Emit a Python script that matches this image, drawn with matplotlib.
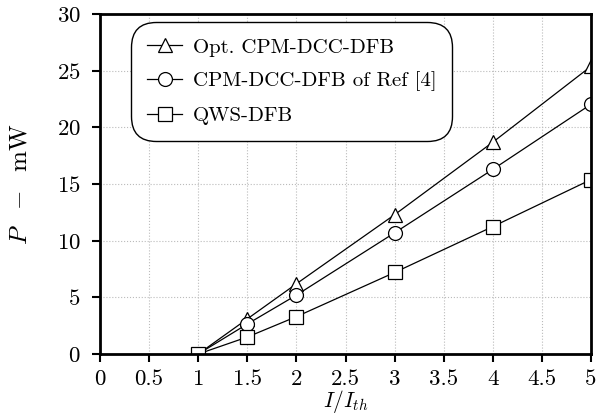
import numpy as np
import matplotlib
matplotlib.use("Agg")
import matplotlib.pyplot as plt

plt.rcParams['font.family'] = 'serif'
plt.rcParams['font.serif'] = ['cmr10']
plt.rcParams['mathtext.fontset'] = 'cm'
plt.rcParams['axes.formatter.use_mathtext'] = True

# data
current = [1, 1.5, 2, 3, 4, 5]
p_opt = [0, 3.1, 6.2, 12.3, 18.7, 25.4]
p_ref4 = [0, 2.65, 5.2, 10.7, 16.3, 22.05]
p_qws = [0, 1.5, 3.3, 7.2, 11.25, 15.4]

labels = ["Opt. CPM-DCC-DFB", "CPM-DCC-DFB of Ref [4]", "QWS-DFB"]
markers = ["^", "o", "s"]
xticks = [0, 0.5, 1, 1.5, 2, 2.5, 3, 3.5, 4, 4.5, 5]
xticklabels = ["0", "0.5", "1", "1.5", "2", "2.5", "3", "3.5", "4", "4.5", "5"]
yticks = [0, 5, 10, 15, 20, 25, 30]

fig = plt.figure(figsize=(5.97, 4.17), dpi=100)
ax = fig.add_axes([0.1675, 0.151, 0.8225, 0.815])

for ys, lab, m in zip([p_opt, p_ref4, p_qws], labels, markers):
    ax.plot(current, ys, color='black', lw=0.9, marker=m, markersize=10,
            markerfacecolor='white', markeredgecolor='black', markeredgewidth=0.9,
            label=lab)

ax.set_xlim(0, 5)
ax.set_ylim(0, 30)
ax.set_xticks(xticks)
ax.set_xticklabels(xticklabels)
ax.set_yticks(yticks)
ax.tick_params(direction='out', length=6, width=1.5, labelsize=16.5,
               top=False, right=False)
ax.tick_params(axis='x', pad=5)
ax.tick_params(axis='y', pad=8)
for s in ax.spines.values():
    s.set_linewidth(2)
ax.grid(True, linestyle=':', color='#bbbbbb', lw=0.8)

ax.set_xlabel(r'$I/I_{th}$', fontsize=15.5, va='bottom')
ax.xaxis.set_label_coords(0.5, -0.178)
ax.set_ylabel(r'$P\ \ -\ \ \mathrm{mW}$', fontsize=18, labelpad=18)

leg = ax.legend(loc='upper left', fontsize=15, handlelength=1.7, handletextpad=0.5,
                borderpad=0.45, labelspacing=0.72, fancybox=True, framealpha=1,
                edgecolor='black', bbox_to_anchor=(0.055, 0.988))
leg.get_frame().set_linewidth(1)
leg.get_frame().set_boxstyle('round', rounding_size=1.2)

fig.savefig("out.png", dpi=100)
